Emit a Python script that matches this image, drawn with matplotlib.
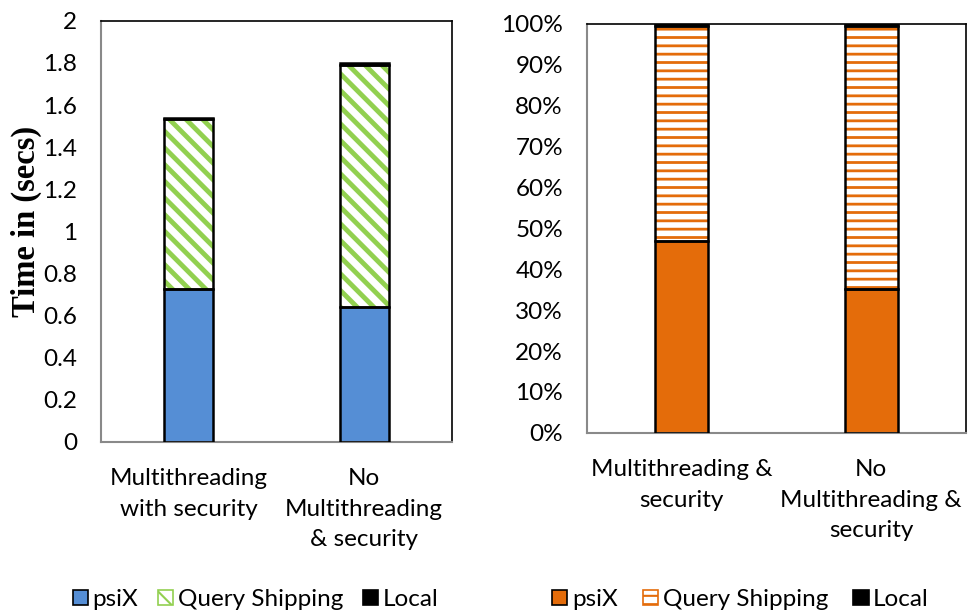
import matplotlib
matplotlib.use("Agg")
import matplotlib.pyplot as plt
import numpy as np
from matplotlib.patches import Patch
from matplotlib.ticker import FixedLocator

plt.rcParams["font.family"] = ["Lato", "DejaVu Sans"]

# ---------------------------------------------------------------------------
# data
# ---------------------------------------------------------------------------
left_categories = ["Multithreading\nwith security", "No\nMultithreading\n& security"]
right_categories = ["Multithreading &\nsecurity", "No\nMultithreading &\nsecurity"]
series_names = ["psiX", "Query Shipping", "Local"]

time_psix = [0.725, 0.64]
time_query = [0.807, 1.152]
time_local = [0.008, 0.008]

pct_psix = [46.9, 35.2]
pct_query = [52.6, 64.3]
pct_local = [0.5, 0.5]

left_ticks = [0, 0.2, 0.4, 0.6, 0.8, 1.0, 1.2, 1.4, 1.6, 1.8, 2.0]
left_ticklabels = ["0", "0.2", "0.4", "0.6", "0.8", "1", "1.2", "1.4", "1.6", "1.8", "2"]
right_ticks = [0, 10, 20, 30, 40, 50, 60, 70, 80, 90, 100]
right_ticklabels = [f"{t}%" for t in right_ticks]

BLUE = "#558ED5"
GREEN = "#92D050"
ORANGE = "#E46C0A"
GRAY = "#898989"
FS = 17.5


def stacked(ax, x, series, colors, hatches, hatch_lws, width):
    bottom = np.zeros(len(x))
    for vals, col, hat, hlw in zip(series, colors, hatches, hatch_lws):
        vals = np.asarray(vals, dtype=float)
        if hat:
            with plt.rc_context({"hatch.linewidth": hlw}):
                ax.bar(x, vals, width, bottom=bottom, color="white",
                       edgecolor=col, hatch=hat, linewidth=0, zorder=2)
        else:
            ax.bar(x, vals, width, bottom=bottom, color=col,
                   linewidth=0, zorder=2)
        ax.bar(x, vals, width, bottom=bottom, color="none",
               edgecolor="black", linewidth=1.8, zorder=3)
        bottom += vals


def style_axes(ax):
    for side in ("left", "bottom"):
        ax.spines[side].set_color(GRAY)
        ax.spines[side].set_linewidth(1.5)
    for side in ("top", "right"):
        ax.spines[side].set_color("black")
        ax.spines[side].set_linewidth(1.2)
    ax.tick_params(axis="both", length=0, labelsize=FS)
    ax.tick_params(axis="y", pad=17)


fig = plt.figure(figsize=(9.68, 6.13), dpi=100)

# --- left: absolute time ---
ax1 = fig.add_axes([0.104, 0.279, 0.363, 0.687])
x1 = np.arange(len(left_categories))
stacked(ax1, x1, [time_psix, time_query, time_local],
        [BLUE, GREEN, "black"], [None, "\\\\", None], [0, 3.5, 0], 0.28)
ax1.set_xlim(-0.5, 1.5)
ax1.set_ylim(0, 2)
ax1.yaxis.set_major_locator(FixedLocator(left_ticks))
ax1.set_yticklabels(left_ticklabels)
ax1.set_xticks(x1)
ax1.set_xticklabels(left_categories, linespacing=1.55)
style_axes(ax1)
ax1.tick_params(axis="x", pad=19)
ax1.set_ylabel("Time in (secs)", family="Liberation Serif", fontweight="bold",
               fontsize=23.5)
ax1.yaxis.set_label_coords(-0.168, 0.523)

# --- right: share of total ---
ax2 = fig.add_axes([0.606, 0.294, 0.392, 0.667])
x2 = np.arange(len(right_categories))
stacked(ax2, x2, [pct_psix, pct_query, pct_local],
        [ORANGE, ORANGE, "black"], [None, "--", None], [0, 2.0, 0], 0.28)
ax2.set_xlim(-0.5, 1.5)
ax2.set_ylim(0, 100)
ax2.yaxis.set_major_locator(FixedLocator(right_ticks))
ax2.set_yticklabels(right_ticklabels)
ax2.set_xticks(x2)
ax2.set_xticklabels(right_categories, linespacing=1.55)
style_axes(ax2)
ax2.tick_params(axis="x", pad=19)


# --- legends ---
def legend_handles(color, hatch_color, hatch):
    return [
        Patch(facecolor=color, edgecolor="black", linewidth=1.2),
        Patch(facecolor="white", edgecolor=hatch_color, hatch=hatch, linewidth=1.2),
        Patch(facecolor="black", edgecolor="black", linewidth=1.2),
    ]


with plt.rc_context({"hatch.linewidth": 1.5}):
    for handles, cx, colsp in ((legend_handles(BLUE, GREEN, "\\\\"), 0.264, 0.82),
                               (legend_handles(ORANGE, ORANGE, "--"), 0.765, 1.05)):
        fig.legend(handles, series_names, loc="center", bbox_to_anchor=(cx, 0.022),
                   ncol=3, frameon=False, fontsize=FS, handlelength=0.62,
                   handleheight=0.62, handletextpad=0.18, columnspacing=colsp,
                   borderpad=0.2)

fig.savefig("out.png", dpi=100)
